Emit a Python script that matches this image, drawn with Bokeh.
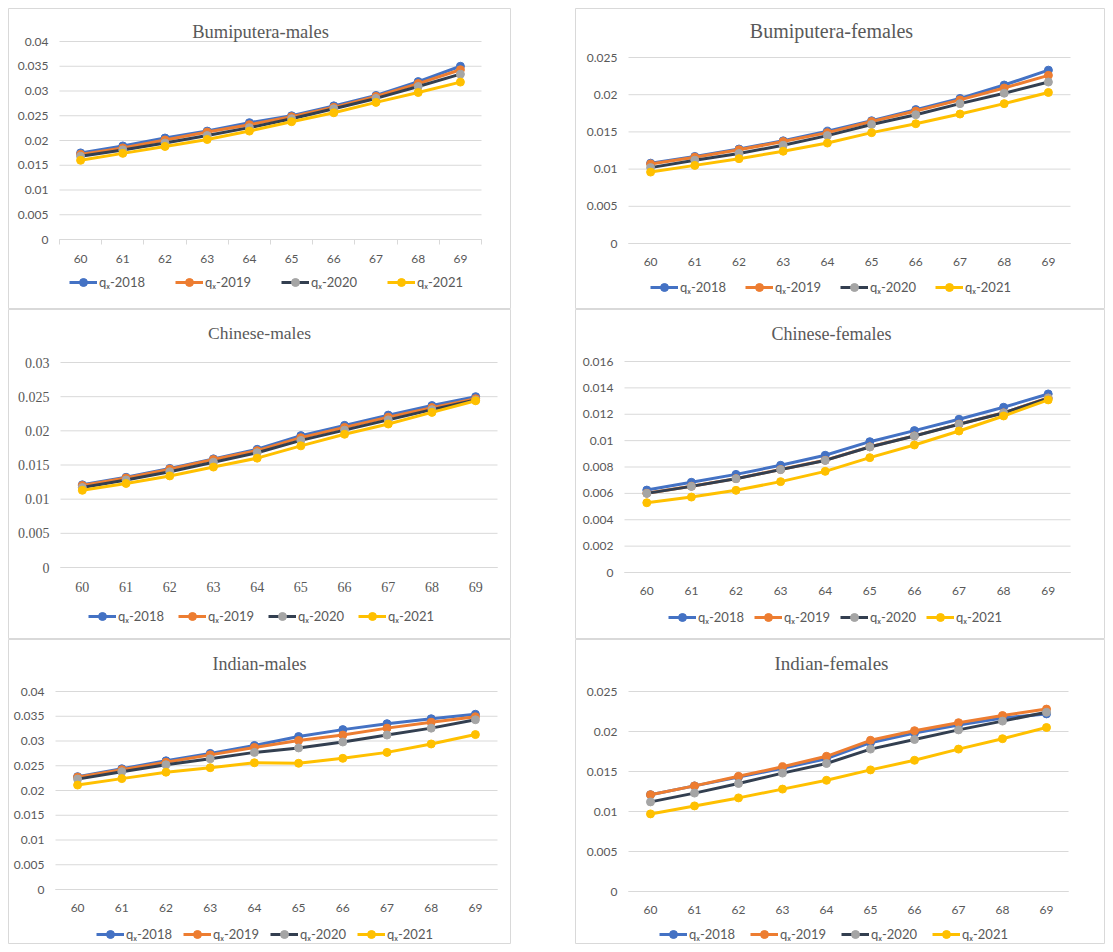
from bokeh.plotting import figure
from bokeh.layouts import column, row
from bokeh.models import (Range1d, FixedTicker, NumeralTickFormatter, Label,
                          Legend, LegendItem, Spacer)
from bokeh.embed import file_html
from bokeh.resources import INLINE

# ---------------- data ----------------
ages = [60, 61, 62, 63, 64, 65, 66, 67, 68, 69]
series_labels = ["qₓ-2018", "qₓ-2019", "qₓ-2020", "qₓ-2021"]

bm_2018 = [0.0175, 0.0189, 0.0205, 0.0219, 0.0236, 0.0250, 0.0270, 0.0291, 0.0319, 0.0350]
bm_2019 = [0.0172, 0.0185, 0.0201, 0.0217, 0.0232, 0.0248, 0.0267, 0.0289, 0.0315, 0.0343]
bm_2020 = [0.0168, 0.0181, 0.0195, 0.0210, 0.0226, 0.0244, 0.0264, 0.0285, 0.0309, 0.0334]
bm_2021 = [0.0160, 0.0174, 0.0188, 0.0202, 0.0219, 0.0238, 0.0256, 0.0277, 0.0297, 0.0318]

bf_2018 = [0.0108, 0.0117, 0.0127, 0.0138, 0.0151, 0.0165, 0.0180, 0.0195, 0.0213, 0.0233]
bf_2019 = [0.0107, 0.0116, 0.0126, 0.0137, 0.0149, 0.0164, 0.0178, 0.0193, 0.0209, 0.0226]
bf_2020 = [0.0102, 0.0112, 0.0121, 0.0132, 0.0145, 0.0160, 0.0173, 0.0188, 0.0202, 0.0217]
bf_2021 = [0.0096, 0.0105, 0.0114, 0.0124, 0.0135, 0.0149, 0.0161, 0.0174, 0.0188, 0.0203]

cm_2018 = [0.0121, 0.0132, 0.0145, 0.0159, 0.0173, 0.0193, 0.0208, 0.0223, 0.0237, 0.0250]
cm_2019 = [0.0120, 0.0131, 0.0144, 0.0158, 0.0171, 0.0190, 0.0205, 0.0220, 0.0234, 0.0247]
cm_2020 = [0.0117, 0.0128, 0.0140, 0.0154, 0.0168, 0.0186, 0.0201, 0.0216, 0.0231, 0.0245]
cm_2021 = [0.0113, 0.0123, 0.0134, 0.0147, 0.0160, 0.0178, 0.0195, 0.0210, 0.0227, 0.0244]

cf_2018 = [0.00625, 0.00684, 0.00744, 0.00813, 0.00889, 0.00992, 0.01076, 0.01162, 0.01253, 0.01354]
cf_2019 = [0.00601, 0.00654, 0.00712, 0.00781, 0.00851, 0.00953, 0.01036, 0.01125, 0.01211, 0.01323]
cf_2020 = [0.00600, 0.00653, 0.00711, 0.00780, 0.00850, 0.00952, 0.01035, 0.01124, 0.01210, 0.01322]
cf_2021 = [0.00529, 0.00572, 0.00623, 0.00689, 0.00767, 0.00871, 0.00967, 0.01073, 0.01187, 0.01309]

im_2018 = [0.0228, 0.0244, 0.0260, 0.0275, 0.0291, 0.0309, 0.0323, 0.0335, 0.0345, 0.0354]
im_2019 = [0.0227, 0.0242, 0.0257, 0.0272, 0.0287, 0.0301, 0.0312, 0.0326, 0.0338, 0.0349]
im_2020 = [0.0223, 0.0238, 0.0252, 0.0264, 0.0277, 0.0286, 0.0298, 0.0312, 0.0326, 0.0343]
im_2021 = [0.0211, 0.0224, 0.0237, 0.0246, 0.0256, 0.0255, 0.0265, 0.0277, 0.0294, 0.0313]

if_2018 = [0.0121, 0.0132, 0.0143, 0.0154, 0.0166, 0.0186, 0.0198, 0.0208, 0.0217, 0.0222]
if_2019 = [0.0121, 0.0132, 0.0144, 0.0156, 0.0169, 0.0189, 0.0201, 0.0211, 0.0220, 0.0228]
if_2020 = [0.0112, 0.0123, 0.0135, 0.0148, 0.0160, 0.0178, 0.0190, 0.0202, 0.0213, 0.0224]
if_2021 = [0.0097, 0.0107, 0.0117, 0.0128, 0.0139, 0.0152, 0.0164, 0.0178, 0.0191, 0.0205]

yticks_bm = [0, 0.005, 0.01, 0.015, 0.02, 0.025, 0.03, 0.035, 0.04]
yticks_bf = [0, 0.005, 0.01, 0.015, 0.02, 0.025]
yticks_cm = [0, 0.005, 0.01, 0.015, 0.02, 0.025, 0.03]
yticks_cf = [0, 0.002, 0.004, 0.006, 0.008, 0.01, 0.012, 0.014, 0.016]
yticks_im = [0, 0.005, 0.01, 0.015, 0.02, 0.025, 0.03, 0.035, 0.04]
yticks_if = [0, 0.005, 0.01, 0.015, 0.02, 0.025]

# ---------------- styles ----------------
line_colors = ["#4472C4", "#ED7D31", "#333F50", "#FFC000"]
marker_colors = ["#4472C4", "#ED7D31", "#A5A5A5", "#FFC000"]
GRID = "#d9d9d9"
TEXT = "#595959"

# box: page left, top, width, height ; plot area: page left, top, right, bottom
panels = [
    dict(title="Bumiputera-males", series=[bm_2018, bm_2019, bm_2020, bm_2021], yticks=yticks_bm,
         box=(8, 8, 503, 301), area=(59, 41, 481, 239), tc=(260, 31), tsize="18.5px",
         leg=(69, 282, 106), tickfont="Lato", ticksize="12px", xticks_out=True),
    dict(title="Bumiputera-females", series=[bf_2018, bf_2019, bf_2020, bf_2021], yticks=yticks_bf,
         box=(575, 8, 530, 301), area=(628, 57, 1070, 243), tc=(831, 30), tsize="20px",
         leg=(650, 287, 95), tickfont="Lato", ticksize="12px", xticks_out=False),
    dict(title="Chinese-males", series=[cm_2018, cm_2019, cm_2020, cm_2021], yticks=yticks_cm,
         box=(8, 309, 503, 330), area=(60, 362, 497, 567), tc=(259, 332), tsize="17.5px",
         leg=(88, 616, 90), tickfont="Liberation Serif", ticksize="14px", xticks_out=False),
    dict(title="Chinese-females", series=[cf_2018, cf_2019, cf_2020, cf_2021], yticks=yticks_cf,
         box=(575, 309, 530, 330), area=(624, 361, 1070, 572), tc=(831, 333), tsize="18px",
         leg=(668, 617, 86), tickfont="Lato", ticksize="12px", xticks_out=False),
    dict(title="Indian-males", series=[im_2018, im_2019, im_2020, im_2021], yticks=yticks_im,
         box=(8, 639, 503, 305), area=(55, 691, 497, 889), tc=(259, 663), tsize="18px",
         leg=(96, 934, 87), tickfont="Lato", ticksize="12px", xticks_out=False),
    dict(title="Indian-females", series=[if_2018, if_2019, if_2020, if_2021], yticks=yticks_if,
         box=(575, 639, 530, 305), area=(628, 691, 1068, 891), tc=(831, 663), tsize="19px",
         leg=(659, 934, 91), tickfont="Lato", ticksize="12px", xticks_out=False),
]


def make_panel(cfg):
    bx, by, bw, bh = cfg["box"]
    al, at, ar, ab = cfg["area"]
    yt = cfg["yticks"]
    x_lo, x_hi = ages[0] - 0.5, ages[-1] + 0.5
    ux = (x_hi - x_lo) / (ar - al)            # data units per pixel
    uy = (yt[-1] - yt[0]) / (ab - at)
    x_range = Range1d(x_lo - (al - bx) * ux, x_hi + (bx + bw - ar) * ux)
    y_range = Range1d(yt[0] - (by + bh - ab) * uy, yt[-1] + (at - by) * uy)

    p = figure(width=bw, height=bh, output_backend="svg", toolbar_location=None,
               title=None, x_range=x_range, y_range=y_range, min_border=0)
    p.outline_line_color = GRID
    p.outline_line_width = 1
    p.background_fill_color = "white"
    p.border_fill_color = "white"
    p.xgrid.visible = False
    p.ygrid.visible = False

    # horizontal gridlines over the plot area only
    p.segment(x0=[x_lo] * len(yt), x1=[x_hi] * len(yt), y0=yt, y1=yt,
              line_color=GRID, line_width=1)

    minor = [a - 0.5 for a in ages] + [ages[-1] + 0.5]
    xa = p.xaxis[0]
    xa.fixed_location = yt[0]
    xa.bounds = (x_lo, x_hi)
    xa.ticker = FixedTicker(ticks=ages, minor_ticks=minor)
    xa.axis_line_color = GRID
    xa.major_tick_line_color = None
    xa.major_tick_out = 0
    xa.major_tick_in = 0
    if cfg["xticks_out"]:
        xa.minor_tick_line_color = GRID
        xa.minor_tick_out = 5
        xa.minor_tick_in = 0
    else:
        xa.minor_tick_line_color = None
    xa.major_label_standoff = 10

    ya = p.yaxis[0]
    ya.fixed_location = x_lo
    ya.bounds = (yt[0], yt[-1])
    ya.ticker = FixedTicker(ticks=yt)
    ya.formatter = NumeralTickFormatter(format="0.[000]")
    ya.axis_line_color = None
    ya.major_tick_line_color = None
    ya.minor_tick_line_color = None
    ya.major_tick_out = 0
    ya.major_tick_in = 0
    ya.major_label_standoff = 11
    for ax in (xa, ya):
        ax.major_label_text_font = cfg["tickfont"]
        ax.major_label_text_font_size = cfg["ticksize"]
        ax.major_label_text_color = TEXT

    items = []
    for lab, ys, lc, mc in zip(series_labels, cfg["series"], line_colors, marker_colors):
        lr = p.line(ages, ys, line_color=lc, line_width=3)
        sr = p.scatter(ages, ys, size=8, fill_color=mc, line_color=mc, marker="circle")
        items.append(LegendItem(label=lab, renderers=[lr, sr]))

    lx, lcy, step = cfg["leg"]
    glyph_w, standoff, spacing = 28, 2, 4
    legend = Legend(items=items, orientation="horizontal",
                    location=(lx - bx, bh - (lcy - by) - 10),
                    glyph_width=glyph_w, glyph_height=20, label_height=20,
                    label_standoff=standoff, spacing=spacing,
                    label_width=step - glyph_w - standoff - spacing,
                    padding=0, margin=0, border_line_color=None,
                    background_fill_alpha=0,
                    label_text_font="Lato", label_text_font_size="13px",
                    label_text_color=TEXT)
    p.add_layout(legend, "center")

    title = Label(x=cfg["tc"][0] - bx, y=bh - (cfg["tc"][1] - by),
                  x_units="screen", y_units="screen",
                  text=cfg["title"], text_align="center", text_baseline="middle",
                  text_font="Liberation Serif", text_font_size=cfg["tsize"],
                  text_color=TEXT)
    p.add_layout(title)
    return p


figs = [make_panel(c) for c in panels]
grid = column(
    Spacer(width=10, height=8),
    row(figs[0], Spacer(width=64, height=10), figs[1]),
    row(figs[2], Spacer(width=64, height=10), figs[3]),
    row(figs[4], Spacer(width=64, height=10), figs[5]),
)
layout = row(Spacer(width=8, height=10), grid)

open("out.html", "w").write(file_html(layout, INLINE))
